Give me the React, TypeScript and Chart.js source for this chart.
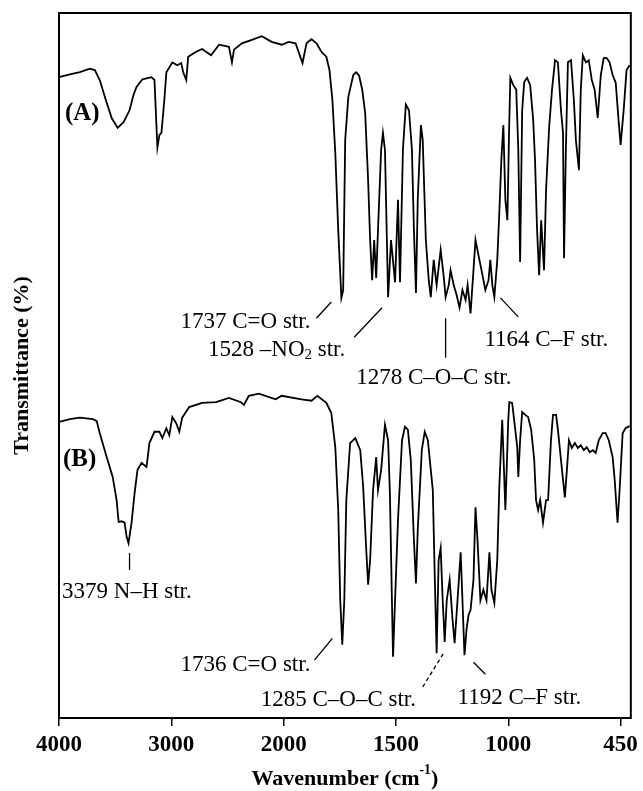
import { useEffect, useRef } from "react";
import { Chart, registerables } from "chart.js";
Chart.register(...registerables);

// ---- Data (wavenumber in cm-1, transmittance in arbitrary % units) ----
const wavenumbersA = [
  4000, 3903, 3814, 3726, 3681, 3637, 3584, 3531, 3478, 3425, 3372, 3336, 3310, 3257, 3177, 3150, 3124, 3106, 3088, 3062,
  3044, 2991, 2947, 2912, 2894, 2867, 2850, 2779, 2726, 2646, 2575, 2487, 2460, 2442, 2372, 2283, 2195, 2106, 2018, 1978,
  1947, 1916, 1898, 1876, 1854, 1832, 1810, 1796, 1783, 1770, 1757, 1743, 1735, 1726, 1712, 1690, 1677, 1664, 1650, 1637,
  1624, 1615, 1606, 1597, 1588, 1580, 1566, 1558, 1549, 1535, 1522, 1504, 1491, 1482, 1469, 1456, 1442, 1429, 1420, 1411,
  1403, 1389, 1381, 1367, 1354, 1345, 1332, 1319, 1301, 1288, 1279, 1265, 1257, 1243, 1230, 1217, 1204, 1190, 1181, 1168,
  1155, 1146, 1133, 1119, 1102, 1088, 1080, 1071, 1062, 1049, 1040, 1031, 1022, 1013, 1004, 996, 990, 976, 961, 951,
  942, 932, 922, 908, 893, 878, 869, 859, 849, 839, 825, 815, 800, 786, 771, 757, 742, 732, 727, 718,
  708, 693, 679, 669, 654, 645, 635, 620, 606, 591, 577, 562, 547, 533, 518, 504, 489, 474, 460, 450,
  435, 421, 406,
];
const transmittanceA = [
  90.9, 91.3, 91.6, 92.1, 91.9, 90.5, 87.7, 85.1, 83.7, 84.5, 86.2, 88.4, 89.5, 90.6, 90.9, 90.5, 80.9, 82.7, 83.0, 87.7,
  91.6, 93.0, 92.6, 92.9, 91.6, 90.5, 93.8, 94.5, 94.9, 94.0, 95.5, 95.2, 93.0, 94.8, 95.7, 96.2, 96.7, 95.9, 95.5, 95.9,
  95.7, 92.9, 95.7, 96.3, 95.7, 94.5, 93.8, 91.9, 87.7, 80.1, 69.2, 59.6, 60.7, 82.0, 88.1, 91.2, 91.6, 91.1, 89.1, 85.8,
  76.3, 67.8, 62.1, 67.8, 62.4, 69.2, 80.6, 83.0, 80.6, 59.7, 67.8, 61.8, 73.5, 61.8, 80.6, 87.0, 86.2, 80.6, 69.2, 60.3,
  73.5, 84.1, 82.0, 67.8, 62.1, 59.7, 65.0, 61.4, 66.4, 62.8, 59.7, 61.4, 63.5, 61.4, 60.0, 58.2, 60.7, 59.3, 61.4, 57.4,
  63.5, 67.8, 65.7, 63.5, 60.7, 62.1, 65.0, 61.4, 59.7, 65.0, 71.6, 79.1, 84.1, 73.5, 70.6, 83.4, 90.8, 89.8, 89.1, 80.6,
  64.7, 86.2, 90.2, 90.8, 89.8, 84.8, 79.1, 69.2, 62.8, 70.6, 63.5, 74.9, 83.8, 89.1, 93.3, 93.0, 86.2, 83.0, 65.2, 80.6,
  93.0, 93.3, 87.7, 82.0, 77.7, 89.1, 94.0, 93.0, 93.3, 90.5, 89.1, 85.1, 91.2, 93.6, 93.6, 93.0, 91.2, 90.1, 84.8, 81.3,
  86.2, 91.9, 92.6,
];
const wavenumbersB = [
  4000, 3903, 3814, 3699, 3664, 3637, 3575, 3522, 3487, 3469, 3442, 3416, 3398, 3381, 3354, 3327, 3301, 3265, 3221, 3195,
  3150, 3106, 3080, 3044, 3018, 2991, 2956, 2929, 2903, 2841, 2726, 2602, 2487, 2380, 2354, 2310, 2221, 2071, 2018, 1920,
  1876, 1850, 1810, 1788, 1770, 1757, 1748, 1739, 1730, 1721, 1704, 1681, 1659, 1646, 1633, 1624, 1615, 1602, 1588, 1580,
  1566, 1549, 1535, 1527, 1518, 1513, 1504, 1491, 1473, 1460, 1447, 1434, 1420, 1411, 1403, 1385, 1372, 1358, 1345, 1336,
  1327, 1319, 1310, 1301, 1292, 1283, 1274, 1261, 1248, 1239, 1226, 1212, 1204, 1195, 1186, 1177, 1168, 1155, 1146, 1137,
  1124, 1111, 1097, 1084, 1075, 1062, 1049, 1040, 1027, 1013, 1000, 995, 981, 966, 956, 951, 942, 932, 917, 903,
  888, 873, 864, 854, 844, 830, 815, 805, 791, 781, 766, 757, 742, 732, 723, 713, 703, 689, 674, 659,
  645, 630, 616, 601, 586, 572, 557, 538, 523, 508, 489, 479, 465, 455, 440, 426, 406,
];
const transmittanceB = [
  42.0, 42.4, 42.6, 42.4, 42.1, 40.4, 37.0, 34.2, 30.9, 27.8, 27.9, 27.7, 25.7, 24.8, 27.7, 31.9, 35.2, 36.2, 35.6, 39.0,
  40.6, 40.6, 39.7, 41.1, 40.1, 42.7, 41.8, 40.6, 42.6, 44.1, 44.7, 44.8, 45.4, 44.8, 44.4, 45.7, 46.0, 45.2, 45.7, 45.2,
  45.0, 45.7, 44.7, 43.3, 38.4, 29.5, 16.7, 10.4, 16.7, 30.9, 39.0, 39.7, 38.0, 32.8, 24.3, 18.9, 22.4, 32.3, 37.0, 32.3,
  35.2, 41.6, 39.4, 31.9, 16.7, 8.7, 16.7, 28.1, 39.4, 41.3, 40.9, 36.6, 25.2, 19.1, 26.7, 38.0, 40.6, 39.4, 35.2, 32.3,
  19.6, 9.2, 22.4, 24.1, 16.7, 10.8, 16.7, 19.6, 13.9, 10.6, 16.7, 23.5, 16.7, 8.9, 12.5, 14.6, 15.3, 19.6, 29.9, 25.2,
  16.7, 18.2, 16.7, 23.5, 18.2, 16.3, 22.4, 32.8, 42.3, 29.5, 42.3, 44.8, 44.7, 40.9, 38.4, 34.2, 39.4, 43.4, 43.0, 42.7,
  40.9, 36.6, 30.9, 29.5, 30.9, 27.7, 30.9, 30.9, 39.4, 43.0, 43.0, 40.9, 36.6, 33.8, 31.3, 35.2, 39.4, 38.3, 39.0, 38.3,
  38.7, 38.0, 38.4, 37.7, 38.0, 37.6, 39.4, 40.4, 40.4, 39.4, 37.0, 33.8, 27.7, 32.3, 40.4, 41.1, 41.4,
];

const tickWavenumbers = [4000, 3000, 2000, 1500, 1000, 450];
const tickLabels = ["4000", "3000", "2000", "1500", "1000", "450"];
const axisMinWavenumber = 400;

// Annotations: text with anchor (wavenumber, transmittance) and alignment
const labelTexts = ["(A)", "(B)"];
const labelWn = [3947, 3965];
const labelT = [85.7, 36.7];

const annTexts = [
  "1737 C=O str.",
  "1528 –NO_{2} str.",
  "1278 C–O–C str.",
  "1164 C–F str.",
  "3379 N–H str.",
  "1736 C=O str.",
  "1285 C–O–C str.",
  "1192 C–F str.",
];
const annWn = [1881, 1726, 1677, 1106, 3973, 1881, 1411, 1226];
const annT = [56.2, 52.2, 48.2, 53.6, 17.9, 7.5, 2.55, 2.8];
const annAlign = ["right", "right", "left", "left", "left", "right", "right", "left"];
// leader lines: from (wn1,t1) to (wn2,t2)
const leadWn1 = [1854, 1686, 1279, 1035, 3372, 1863, 1381, 1155];
const leadT1 = [56.7, 54.0, 56.7, 59.6, 23.4, 8.2, 4.4, 7.9];
const leadWn2 = [1788, 1562, 1279, 951, 3372, 1783, 1288, 1102];
const leadT2 = [59.0, 58.2, 51.1, 56.9, 21.0, 11.3, 9.2, 6.2];
const leadDashed = [false, false, false, false, false, false, true, false];

function wnToPos(w: number): number {
  if (w >= 2000) return (4000 - w) / 1000;
  if (w >= 1000) return 2 + (2000 - w) / 500;
  return 4 + (1000 - w) / 550;
}

const SERIF = '"Liberation Serif", "Times New Roman", serif';

function drawRich(
  ctx: CanvasRenderingContext2D,
  str: string,
  x: number,
  y: number,
  size: number,
  weight: string,
  align: string
) {
  const parts = str.split(/(_\{[^}]*\}|\^\{[^}]*\})/).filter((p) => p.length > 0);
  const segs = parts.map((p) => {
    if (p.startsWith("_{")) return { t: p.slice(2, -1), s: size * 0.65, dy: size * 0.22 };
    if (p.startsWith("^{")) return { t: p.slice(2, -1), s: size * 0.62, dy: -size * 0.38 };
    return { t: p, s: size, dy: 0 };
  });
  let total = 0;
  const widths: number[] = [];
  for (const sg of segs) {
    ctx.font = `${weight} ${sg.s}px ${SERIF}`;
    const w = ctx.measureText(sg.t).width;
    widths.push(w);
    total += w;
  }
  let cx = x;
  if (align === "right") cx = x - total;
  else if (align === "center") cx = x - total / 2;
  ctx.textAlign = "left";
  ctx.textBaseline = "middle";
  segs.forEach((sg, i) => {
    ctx.font = `${weight} ${sg.s}px ${SERIF}`;
    ctx.fillText(sg.t, cx, y + sg.dy);
    cx += widths[i];
  });
}

const decorPlugin = {
  id: "decor",
  afterDatasetsDraw(chart: any) {
    const { ctx, chartArea, scales } = chart;
    const xs = scales.x;
    const ys = scales.y;
    ctx.save();
    ctx.fillStyle = "#000";
    ctx.strokeStyle = "#000";
    // frame
    ctx.lineWidth = 2;
    ctx.strokeRect(chartArea.left, chartArea.top, chartArea.right - chartArea.left, chartArea.bottom - chartArea.top);
    // leader lines
    ctx.lineWidth = 1.3;
    for (let i = 0; i < leadWn1.length; i++) {
      ctx.setLineDash(leadDashed[i] ? [4, 3] : []);
      ctx.beginPath();
      ctx.moveTo(xs.getPixelForValue(wnToPos(leadWn1[i])), ys.getPixelForValue(leadT1[i]));
      ctx.lineTo(xs.getPixelForValue(wnToPos(leadWn2[i])), ys.getPixelForValue(leadT2[i]));
      ctx.stroke();
    }
    ctx.setLineDash([]);
    // annotation texts
    for (let i = 0; i < annTexts.length; i++) {
      drawRich(
        ctx,
        annTexts[i],
        xs.getPixelForValue(wnToPos(annWn[i])),
        ys.getPixelForValue(annT[i]),
        23,
        "normal",
        annAlign[i]
      );
    }
    // panel labels
    for (let i = 0; i < labelTexts.length; i++) {
      drawRich(
        ctx,
        labelTexts[i],
        xs.getPixelForValue(wnToPos(labelWn[i])),
        ys.getPixelForValue(labelT[i]),
        25,
        "bold",
        "left"
      );
    }
    // axis titles
    drawRich(ctx, "Wavenumber (cm^{-1})", (chartArea.left + chartArea.right) / 2, 779, 22, "bold", "center");
    ctx.translate(22, (chartArea.top + chartArea.bottom) / 2);
    ctx.rotate(-Math.PI / 2);
    drawRich(ctx, "Transmittance (%)", 0, 0, 22, "bold", "center");
    ctx.restore();
  },
};

export default function App() {
  const canvasRef = useRef<HTMLCanvasElement | null>(null);
  useEffect(() => {
    document.body.style.margin = "0";
    const canvas = canvasRef.current;
    if (!canvas) return;
    const chart = new Chart(canvas, {
      type: "line",
      data: {
        datasets: [
          {
            label: "A",
            data: wavenumbersA.map((w, i) => ({ x: wnToPos(w), y: transmittanceA[i] })),
            borderColor: "#000",
            borderWidth: 1.8,
            pointRadius: 0,
            tension: 0,
            fill: false,
          },
          {
            label: "B",
            data: wavenumbersB.map((w, i) => ({ x: wnToPos(w), y: transmittanceB[i] })),
            borderColor: "#000",
            borderWidth: 1.8,
            pointRadius: 0,
            tension: 0,
            fill: false,
          },
        ],
      },
      options: {
        animation: false,
        responsive: false,
        devicePixelRatio: 1,
        layout: { padding: { left: 59, right: 8, top: 13, bottom: 0 } },
        plugins: { legend: { display: false }, tooltip: { enabled: false } },
        scales: {
          x: {
            type: "linear",
            min: 0,
            max: wnToPos(axisMinWavenumber),
            afterBuildTicks: (scale: any) => {
              scale.ticks = tickWavenumbers.map((w) => ({ value: wnToPos(w) }));
            },
            afterFit: (scale: any) => {
              scale.height = 73;
            },
            border: { display: false },
            grid: {
              display: true,
              drawOnChartArea: false,
              drawTicks: true,
              tickLength: 8,
              color: "#000",
              lineWidth: 1.5,
            },
            ticks: {
              autoSkip: false,
              maxRotation: 0,
              padding: 5,
              color: "#000",
              font: { family: SERIF, size: 23, weight: "bold" },
              callback: (_v: any, i: number) => tickLabels[i],
            },
          },
          y: {
            display: false,
            min: 0,
            max: 100,
          },
        },
      },
      plugins: [decorPlugin],
    } as any);
    return () => chart.destroy();
  }, []);
  return (
    <div style={{ width: 643, height: 791 }}>
      <canvas ref={canvasRef} width={643} height={791} style={{ display: "block" }} />
    </div>
  );
}
